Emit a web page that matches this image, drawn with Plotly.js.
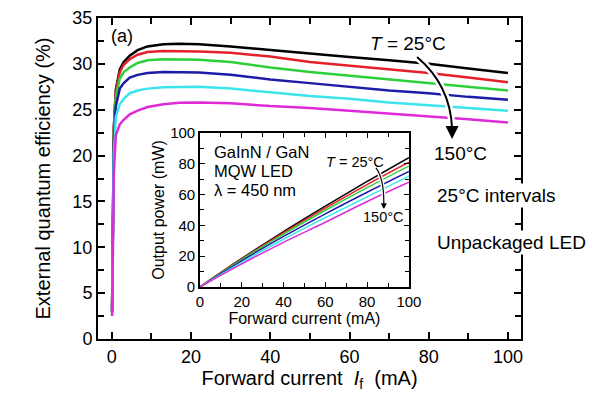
<!DOCTYPE html>
<html>
<head>
<meta charset="utf-8">
<script src="https://cdn.plot.ly/plotly-3.0.1.min.js"></script>
<style>html,body{margin:0;padding:0;background:#fff}</style>
</head>
<body>
<div id="chart" style="width:600px;height:400px"></div>
<script>
// main plot: EQE vs forward current, 25..150 C
var tempLabels = ['25°C', '50°C', '75°C', '100°C', '125°C', '150°C'];
var lineColors = ['#000000', '#e4202a', '#2dd03a', '#1c1ca8', '#3ce4ec', '#e02ad8'];

var mainCurrent = [0.05, 0.25, 0.5, 1, 2, 3, 4.5, 6.5, 9, 13, 17, 22, 30, 40, 50, 60, 70, 80, 90, 100];
var eqe25  = [3, 15, 23, 27.2, 29.4, 30.2, 30.9, 31.5, 31.9, 32.15, 32.2, 32.15, 31.9, 31.5, 31.1, 30.75, 30.4, 30.0, 29.5, 29.0];
var eqe50  = [3, 15, 23, 27.0, 29.1, 29.9, 30.5, 31.0, 31.3, 31.4, 31.4, 31.35, 31.2, 30.8, 30.2, 29.8, 29.4, 29.0, 28.5, 28.0];
var eqe75  = [3, 15, 22.5, 26.4, 28.4, 29.1, 29.6, 30.1, 30.4, 30.5, 30.5, 30.45, 30.2, 29.6, 29.1, 28.7, 28.3, 27.9, 27.5, 27.1];
var eqe100 = [3, 14.5, 21.5, 25.4, 27.3, 27.9, 28.5, 28.8, 29.0, 29.1, 29.1, 29.05, 28.8, 28.3, 27.9, 27.5, 27.1, 26.8, 26.4, 26.1];
var eqe125 = [2.8, 13.5, 20, 24.2, 25.6, 26.2, 26.8, 27.1, 27.3, 27.45, 27.5, 27.5, 27.3, 26.9, 26.5, 26.2, 25.8, 25.5, 25.2, 24.9];
var eqe150 = [2.5, 12, 18, 22.2, 23.4, 23.9, 24.5, 24.9, 25.3, 25.6, 25.75, 25.8, 25.7, 25.4, 25.2, 24.9, 24.6, 24.3, 23.95, 23.6];

// inset: output power vs forward current
var insetCurrent = [0, 20, 40, 60, 80, 100];
var power25  = [0, 18.5, 36, 52.5, 68.5, 84];
var power50  = [0, 18.2, 35.2, 51.2, 66.5, 81];
var power75  = [0, 17.8, 34.3, 49.8, 64.5, 78.5];
var power100 = [0, 17, 32.8, 47.5, 61.5, 75];
var power125 = [0, 16, 31, 45, 58.5, 72];
var power150 = [0, 15, 29, 42, 55.5, 68];

var eqeSets = [eqe25, eqe50, eqe75, eqe100, eqe125, eqe150];
var powerSets = [power25, power50, power75, power100, power125, power150];

var fam = 'Arial, "Liberation Sans", sans-serif';
var traces = [];
eqeSets.forEach(function (ys, i) {
  traces.push({x: mainCurrent, y: ys, name: tempLabels[i], type: 'scatter', mode: 'lines',
    line: {color: lineColors[i], width: 2.5}, xaxis: 'x', yaxis: 'y'});
});
powerSets.forEach(function (ys, i) {
  traces.push({x: insetCurrent, y: ys, name: tempLabels[i], type: 'scatter', mode: 'lines',
    line: {color: lineColors[i], width: 1.5, shape: 'spline'}, xaxis: 'x2', yaxis: 'y2'});
});

function ax(extra) {
  var base = { showgrid: false, zeroline: false, showline: true, linecolor: '#000', linewidth: 2,
    mirror: 'allticks', ticks: 'inside', ticklen: 7, tickwidth: 1.5, tickcolor: '#000',
    tickfont: {family: fam, size: 18, color: '#000'} };
  for (var k in extra) base[k] = extra[k];
  return base;
}

var layout = {
  width: 600, height: 400,
  margin: {l: 98, r: 79, t: 18, b: 61},
  paper_bgcolor: '#fff', plot_bgcolor: '#fff',
  showlegend: false,
  font: {family: fam, color: '#000'},
  xaxis: ax({ range: [-3.5, 103.3], tick0: 0, dtick: 20,
    minor: {dtick: 10, ticks: 'inside', ticklen: 6, tickcolor: '#000', tickwidth: 1.5},
    title: {text: 'Forward current\u00a0\u00a0<i>I</i><sub>f</sub>\u00a0\u00a0(mA)', font: {size: 20}, standoff: 5} }),
  yaxis: ax({ range: [0, 35], tick0: 0, dtick: 5,
    minor: {dtick: 2.5, ticks: 'inside', ticklen: 6, tickcolor: '#000', tickwidth: 1.5},
    title: {text: 'External quantum efficiency (%)', font: {size: 20}, standoff: 16} }),
  xaxis2: ax({ domain: [0.241, 0.735], anchor: 'y2', range: [0, 100], dtick: 20, linewidth: 1.5,
    ticklen: 5, tickwidth: 1, tickfont: {family: fam, size: 15, color: '#000'},
    minor: {dtick: 10, ticks: 'inside', ticklen: 4, tickcolor: '#000', tickwidth: 1},
    title: {text: 'Forward current (mA)', font: {size: 16}, standoff: 1} }),
  yaxis2: ax({ domain: [0.162, 0.642], anchor: 'x2', range: [0, 100], dtick: 20, linewidth: 1.5,
    ticklen: 5, tickwidth: 1, tickfont: {family: fam, size: 15, color: '#000'},
    minor: {dtick: 10, ticks: 'inside', ticklen: 4, tickcolor: '#000', tickwidth: 1},
    title: {text: 'Output power (mW)', font: {size: 16}, standoff: 2} }),
  shapes: [
    {type: 'path', xref: 'x', yref: 'y', path: 'M 77.05,30.75 Q 85.4,27.7 85.9,23.0', line: {color: '#fff', width: 7}},
    {type: 'path', xref: 'x', yref: 'y', path: 'M 77.05,30.75 Q 85.4,27.7 85.9,23.0', line: {color: '#000', width: 2}},
    {type: 'path', xref: 'x2', yref: 'y2', path: 'M 84.2,77.3 Q 88,70.8 88,54.5', line: {color: '#fff', width: 4}},
    {type: 'path', xref: 'x2', yref: 'y2', path: 'M 84.2,77.3 Q 88,70.8 88,54.5', line: {color: '#000', width: 1.2}}
  ],
  annotations: [
    {xref: 'x', yref: 'y', x: 2.65, y: 33.0, text: '(a)', showarrow: false, font: {size: 18}},
    {xref: 'x', yref: 'y', x: 74.8, y: 32.2, text: '<i>T</i> = 25°C', showarrow: false, font: {size: 19}},
    {xref: 'x', yref: 'y', x: 85.9, y: 21.8, text: '', showarrow: true, ax: 0, ay: -14,
      arrowhead: 2, arrowsize: 1.3, arrowwidth: 2, arrowcolor: '#000'},
    {xref: 'x', yref: 'y', x: 88.1, y: 20.2, text: '150°C', showarrow: false, font: {size: 19}},
    {xref: 'x', yref: 'y', x: 81.6, y: 15.6, xanchor: 'left', text: '25°C intervals', showarrow: false,
      font: {size: 19}, bgcolor: '#fff', borderpad: 1},
    {xref: 'x', yref: 'y', x: 81.6, y: 10.5, xanchor: 'left', text: 'Unpackaged LED', showarrow: false,
      font: {size: 19}, bgcolor: '#fff', borderpad: 1},
    {xref: 'x2', yref: 'y2', x: 5.7, y: 87.7, xanchor: 'left', text: 'GaInN / GaN', showarrow: false, font: {size: 16.5}},
    {xref: 'x2', yref: 'y2', x: 5.7, y: 75.3, xanchor: 'left', text: 'MQW LED', showarrow: false, font: {size: 16.5}},
    {xref: 'x2', yref: 'y2', x: 5.7, y: 63, xanchor: 'left', text: 'λ = 450 nm', showarrow: false, font: {size: 16.5}},
    {xref: 'x2', yref: 'y2', x: 74.2, y: 81.2, text: '<i>T</i> = 25°C', showarrow: false, font: {size: 14.5}},
    {xref: 'x2', yref: 'y2', x: 88, y: 50.5, text: '', showarrow: true, ax: 0, ay: -8,
      arrowhead: 2, arrowsize: 1, arrowwidth: 1.2, arrowcolor: '#000'},
    {xref: 'x2', yref: 'y2', x: 87.6, y: 45.5, text: '150°C', showarrow: false, font: {size: 14.5}, bgcolor: '#fff', borderpad: 0}
  ]
};

Plotly.newPlot('chart', traces, layout, {displayModeBar: false, responsive: false});
</script>
</body>
</html>
